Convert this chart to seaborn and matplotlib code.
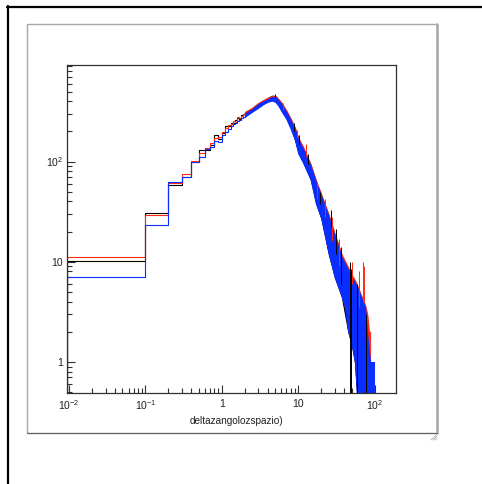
import numpy as np
import matplotlib
matplotlib.use("Agg")
import matplotlib.pyplot as plt
import seaborn as sns
from matplotlib.lines import Line2D
from matplotlib.patches import Rectangle
from matplotlib.ticker import LogLocator, NullFormatter

# ---------------- data (counts per 0.1-wide bin) ----------------
bin_width = 0.1
black_counts = [10.2, 30.6, 58.6, 70, 100, 131, 131, 146, 185, 167,
                195, 227, 225, 245, 240, 262, 270, 268, 292, 300]
red_counts = [11.1, 29.0, 61, 75.5, 102, 121, 137, 152, 171, 175,
              199, 215, 232, 238, 255, 250, 278, 275, 285, 296]
blue_counts = [7.0, 23.4, 63, 70, 98, 112, 133, 141, 162, 158,
               185, 199, 210, 225, 236, 245, 252, 262, 272, 280]

# dense part of the distributions (x >= 2): upper / lower envelope of the fine bins
black_x = [2.0, 2.5, 3.0, 3.5, 4.0, 4.5, 5.0, 5.5, 6.0, 7.0, 8.0, 9.0, 10, 11.5, 14.5,
           17, 20, 25, 30, 37, 45, 50, 55, 61, 66, 72, 77, 82]
black_hi = [312, 342, 382, 408, 432, 455, 452, 418, 385, 318, 262, 216, 170, 139, 93,
            64, 46, 29, 18.5, 11.5, 8.5, 7, 6, 5, 4.3, 3.5, 3, 2]
black_lo = [290, 320, 355, 385, 405, 415, 405, 370, 330, 272, 216, 168, 124, 100, 67,
            39, 27, 12, 7, 4.5, 2, 1.5, 1, 0, 0, 0, 0, 0]

red_x = [2.0, 2.5, 3.0, 3.5, 4.0, 4.5, 5.0, 5.5, 6.0, 7.0, 8.0, 9.0, 10, 11.5, 14.5,
         17, 20, 25, 30, 37, 45, 50, 55, 61, 66, 75, 80, 84, 87]
red_hi = [310, 345, 385, 412, 435, 452, 450, 420, 390, 322, 266, 220, 173, 141, 94,
          65, 47, 29.5, 19, 11.8, 8.8, 7.4, 6.6, 5.5, 4.7, 3.7, 3, 2, 2]
red_lo = [290, 325, 360, 390, 410, 420, 410, 380, 340, 278, 222, 175, 130, 104, 70,
          42, 29, 13, 7.5, 5, 2.5, 2, 1, 1, 0, 0, 0, 1, 1]

blue_x = [2.0, 2.5, 3.0, 3.5, 4.0, 4.5, 5.0, 5.5, 6.0, 7.0, 8.0, 9.0, 10, 11.5, 14.5,
          17, 20, 25, 30, 37, 41, 45, 50, 55, 61, 66, 75, 79, 87, 98]
blue_hi = [300, 335, 375, 400, 420, 440, 440, 410, 375, 310, 255, 210, 165, 135, 90,
           62, 45, 28, 18, 11, 9.5, 8.3, 7, 6.2, 5.2, 4.5, 3.5, 2, 1, 1]
blue_lo = [280, 315, 345, 375, 395, 405, 395, 360, 320, 265, 210, 165, 120, 98, 66,
           38, 27, 12, 7, 4.5, 3.5, 2, 1.5, 1, 0, 0, 0, 0, 0, 0]

# isolated fluctuations that stick out of the bands
black_spike_x = [4.9, 8.8, 10.3, 13.2, 19.0, 26.5, 31, 36, 48, 49.5, 58, 77]
black_spike_hi = [470, 240, 185, 120, 50, 33, 21, 14, 10, 8.5, 6, 3]
black_spike_lo = [440, 200, 150, 95, 38, 22, 12, 6, 0, 0, 0, 0]
red_spike_x = [6.3, 9.6, 12.5, 17.4, 22.5, 28, 34, 50, 62, 70, 72]
red_spike_hi = [380, 205, 150, 62, 42, 28, 17, 10, 8, 10, 9]
red_spike_lo = [330, 170, 110, 42, 28, 16, 9, 6, 3.5, 4, 4]

x_ticks = [0.01, 0.1, 1, 10, 100]
x_tick_labels = ["$10^{-2}$", "$10^{-1}$", "1", "10", "$10^{2}$"]
y_ticks = [1, 10, 100]
y_tick_labels = ["1", "10", "$10^{2}$"]
x_title = "deltazangolozspazio)"

# ---------------- style ----------------
sns.set_style("white")
plt.rcParams["font.family"] = ["Liberation Sans", "DejaVu Sans"]
plt.rcParams["mathtext.fontset"] = "custom"
plt.rcParams["mathtext.rm"] = "Liberation Sans"
plt.rcParams["mathtext.it"] = "Liberation Sans:italic"
plt.rcParams["mathtext.bf"] = "Liberation Sans:bold"

W, H = 482, 484
XMIN, XMAX = 0.0094, 190
YMIN, YMAX = 0.49, 920
FLOOR = 0.3

fig = plt.figure(figsize=(W / 100, H / 100), dpi=100)
fig.patch.set_facecolor("white")


def fx(p):
    return p / W


def fy(p):
    return 1 - p / H


# page decorations (outer border, pad frame, resize grip)
fig.add_artist(Line2D([fx(7), 1], [fy(7), fy(7)], color="black", lw=1.6))
fig.add_artist(Line2D([fx(8), fx(8)], [fy(6), 0], color="black", lw=1.6))
fig.add_artist(Rectangle((fx(27), fy(433)), fx(437) - fx(27), fy(24) - fy(433),
                         fill=False, edgecolor="#a8a8a8", lw=1.0))
fig.add_artist(Line2D([fx(437), fx(437)], [fy(24), fy(433)], color="#a8a8a8", lw=1.8))
fig.add_artist(Line2D([fx(27), fx(437)], [fy(433), fy(433)], color="#606060", lw=0.8))
for d in (2, 4, 6):
    fig.add_artist(Line2D([fx(437 - d), fx(437)], [fy(440), fy(440 - d)],
                          color="#b0b0b0", lw=0.6))

ax = fig.add_axes([fx(67), fy(393), fx(396) - fx(67), fy(65) - fy(393)])
ax.set_xscale("log")
ax.set_yscale("log")
ax.set_xlim(XMIN, XMAX)
ax.set_ylim(YMIN, YMAX)

colors = {"black": "#000000", "red": "#ff2a10", "blue": "#0a2eff"}
series = [
    ("black", black_counts, black_x, black_hi, black_lo),
    ("red", red_counts, red_x, red_hi, red_lo),
    ("blue", blue_counts, blue_x, blue_hi, blue_lo),
]

for name, counts, bx, bhi, blo in series:
    c = colors[name]
    counts = np.asarray(counts, float)
    edges = np.arange(len(counts) + 1) * bin_width
    xs = np.maximum(np.concatenate([[edges[0]], edges]), XMIN)
    ys = np.concatenate([[FLOOR], counts, [counts[-1]]])
    sns.lineplot(x=xs, y=ys, ax=ax, color=c, lw=0.8, estimator=None, sort=False,
                 drawstyle="steps-post", legend=False)
    lo = np.maximum(np.asarray(blo, float), FLOOR)
    ax.fill_between(bx, lo, bhi, color=c, lw=0.7, edgecolor=c)

ax.vlines(black_spike_x, np.maximum(black_spike_lo, FLOOR), black_spike_hi,
          color=colors["black"], lw=0.7)
ax.vlines(red_spike_x, np.maximum(red_spike_lo, FLOOR), red_spike_hi,
          color=colors["red"], lw=0.7)

# axes
for s in ax.spines.values():
    s.set_color("#303030")
    s.set_linewidth(0.9)
ax.set_xticks(x_ticks)
ax.set_xticklabels(x_tick_labels)
ax.set_yticks(y_ticks)
ax.set_yticklabels(y_tick_labels)
ax.xaxis.set_minor_locator(LogLocator(base=10, subs=np.arange(2, 10), numticks=20))
ax.yaxis.set_minor_locator(LogLocator(base=10, subs=np.arange(2, 10), numticks=20))
ax.xaxis.set_minor_formatter(NullFormatter())
ax.yaxis.set_minor_formatter(NullFormatter())
ax.tick_params(which="major", direction="in", length=6, width=0.8, color="#303030",
               labelsize=7.5, labelcolor="#202020")
ax.tick_params(which="minor", direction="in", length=3.5, width=0.8, color="#303030")
ax.tick_params(axis="x", which="both", top=False, bottom=True, pad=4)
ax.tick_params(axis="y", which="both", right=False, left=True, pad=3)
ax.set_xlabel("")
ax.set_ylabel("")
fig.text(fx(236), fy(421), x_title, ha="center", va="center", fontsize=7.2,
         color="#202020")

fig.savefig("out.png", dpi=100, facecolor="white")
